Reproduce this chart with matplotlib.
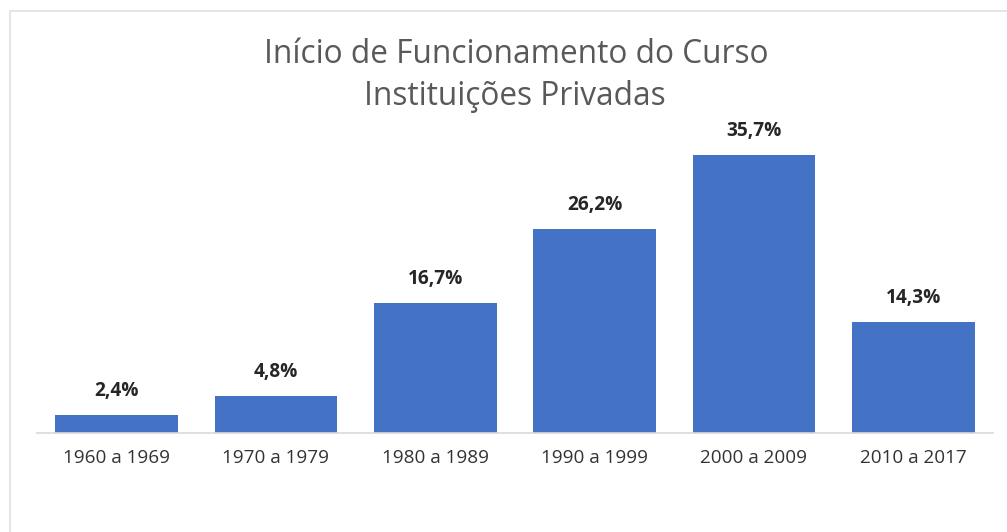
import matplotlib.pyplot as plt
from matplotlib.lines import Line2D

# dados
categorias = ["1960 a 1969", "1970 a 1979", "1980 a 1989",
              "1990 a 1999", "2000 a 2009", "2010 a 2017"]
percentuais = [2.4, 4.8, 16.7, 26.2, 35.7, 14.3]
titulo = ["Início de Funcionamento do Curso", "Instituições Privadas"]

AZUL = "#4472C4"
CINZA_TITULO = "#595959"
CINZA_EIXO = "#D9D9D9"
FONTE = ["Open Sans", "DejaVu Sans"]

plt.rcParams["font.family"] = FONTE

W, H = 1007, 532
fig = plt.figure(figsize=(W / 100, H / 100), dpi=100)

# área do gráfico (em pixels da imagem de referência)
x0, x1 = 37, 993
y_base, y_top = 433.3, 121.0
ax = fig.add_axes([x0 / W, 1 - y_base / H, (x1 - x0) / W, (y_base - y_top) / H])

x = range(len(categorias))
bars = ax.bar(x, percentuais, width=0.77, color=AZUL)
ax.set_xlim(-0.5, len(categorias) - 0.5)
ax.set_ylim(0, 40)

for b, v in zip(bars, percentuais):
    ax.annotate(f"{v:.1f}%".replace(".", ","),
                (b.get_x() + b.get_width() / 2, v),
                xytext=(0, 13.5), textcoords="offset points",
                ha="center", va="baseline", fontsize=13.8,
                fontweight="bold", color="#262626")

ax.set_xticks(list(x), categorias, fontsize=13.6, color="#333333")
ax.tick_params(axis="x", length=0, pad=11)
ax.set_yticks([])
for s in ("top", "right", "left"):
    ax.spines[s].set_visible(False)
ax.spines["bottom"].set_color(CINZA_EIXO)
ax.spines["bottom"].set_linewidth(1.2)

# título em duas linhas
fig.text(516 / W, 1 - 63.3 / H, titulo[0], ha="center", va="baseline",
         fontsize=22.8, color=CINZA_TITULO)
fig.text(515 / W, 1 - 105 / H, titulo[1], ha="center", va="baseline",
         fontsize=22.8, color=CINZA_TITULO)

# borda do quadro (cortada à direita e embaixo)
fig.add_artist(Line2D([10 / W, 10 / W, 1.0], [0.0, 1 - 11 / H, 1 - 11 / H],
                      transform=fig.transFigure, color="#E0E0E0", linewidth=1.2))

fig.savefig("out.png", dpi=100)
